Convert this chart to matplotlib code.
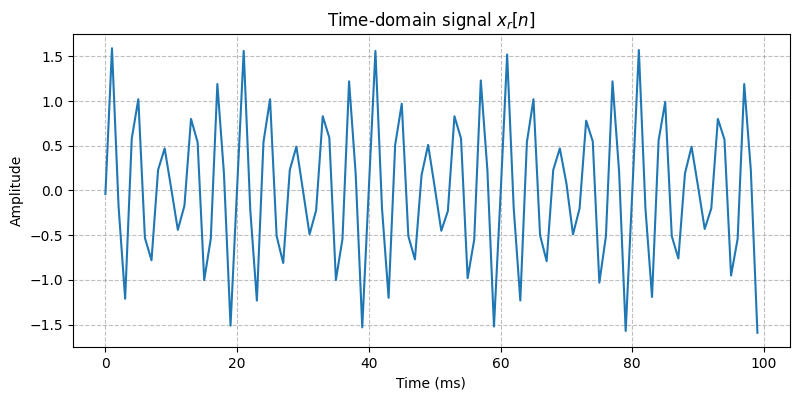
import numpy as np
import matplotlib
matplotlib.use("Agg")
import matplotlib.pyplot as plt

# sample times (ms), one sample per ms
time_ms = np.arange(100)

# amplitude, one value per sample
amplitude = [
    -0.04, 1.59, -0.18, -1.21, 0.58, 1.02, -0.53, -0.78, 0.23, 0.47,
    0.02, -0.44, -0.17, 0.80, 0.54, -1.00, -0.54, 1.19, 0.19, -1.51,
    0.03, 1.56, -0.22, -1.23, 0.54, 1.02, -0.51, -0.81, 0.23, 0.49,
    0.00, -0.49, -0.22, 0.83, 0.59, -1.00, -0.54, 1.22, 0.19, -1.53,
    0.02, 1.56, -0.20, -1.20, 0.51, 0.97, -0.51, -0.77, 0.17, 0.51,
    0.04, -0.45, -0.23, 0.83, 0.58, -0.98, -0.55, 1.23, 0.23, -1.52,
    -0.05, 1.52, -0.20, -1.23, 0.54, 1.02, -0.50, -0.79, 0.23, 0.47,
    0.08, -0.49, -0.20, 0.78, 0.55, -1.03, -0.51, 1.22, 0.21, -1.57,
    -0.02, 1.57, -0.20, -1.19, 0.56, 0.99, -0.51, -0.76, 0.19, 0.49,
    0.04, -0.43, -0.20, 0.80, 0.57, -0.95, -0.54, 1.19, 0.23, -1.59,
]

fig, ax = plt.subplots(figsize=(8, 4), dpi=100)
ax.plot(time_ms, amplitude, color='#1f77b4', linewidth=1.5)
ax.set_title('Time-domain signal $x_r[n]$')
ax.set_xlabel('Time (ms)')
ax.set_ylabel('Amplitude')
ax.grid(True, linestyle='--', color='gray', alpha=0.5)

fig.subplots_adjust(left=0.091, right=0.9875, top=0.915, bottom=0.1325)
plt.savefig('out.png', dpi=100)
